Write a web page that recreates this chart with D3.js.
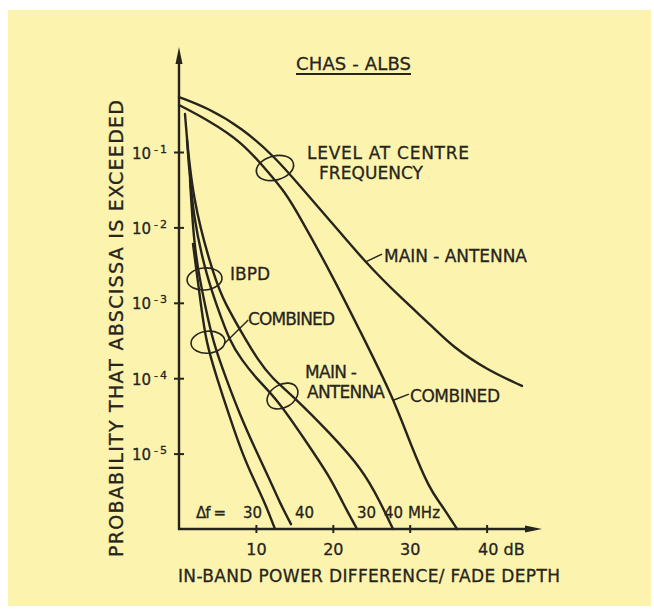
<!DOCTYPE html>
<html>
<head>
<meta charset="utf-8">
<script src="https://cdn.jsdelivr.net/npm/d3@7"></script>
<style>
  body { margin: 0; background: #fff; }
  svg text { font-family: "DejaVu Sans", sans-serif; fill: #27241c; stroke: #27241c; stroke-width: 0.3; }
</style>
</head>
<body>
<script>
// level at centre frequency (dB, probability)
const levelMainDb = [0, 3.77, 8.19, 12.48, 15.73, 20.03, 24.19, 28.74, 33.03, 35.63, 40.05, 44.6];
const levelMainP  = [0.536, 0.383, 0.208, 0.0859, 0.0354, 0.0111, 0.00348, 0.00119, 4.78e-4, 2.59e-4, 1.29e-4, 7.9e-5];
const levelCombDb = [0, 3.77, 8.19, 11.57, 13.78, 15.73, 20.03, 23.28, 27.83, 30.04, 32.64, 34.0, 36.15];
const levelCombP  = [0.42, 0.265, 0.136, 0.0543, 0.0295, 0.01374, 0.0022, 4.78e-4, 5.64e-5, 1.38e-5, 3.29e-6, 2.2e-6, 1e-6];

// IBPD, combined, df = 30 / 40 MHz
const ibpdComb30Db = [1.82, 2.34, 2.86, 3.51, 4.94, 6.5, 8.19, 9.75, 11.18, 12.48];
const ibpdComb30P  = [6.03e-3, 2.34e-3, 9.35e-4, 3.02e-4, 1.0e-4, 3.25e-5, 1.02e-5, 4.47e-6, 2.21e-6, 1e-6];
const ibpdComb40Db = [1.43, 1.95, 2.73, 3.38, 4.42, 6.11, 7.93, 10.14, 11.7, 13.13, 14.56];
const ibpdComb40P  = [0.0425, 5.85e-3, 2.0e-3, 9.35e-4, 3.02e-4, 1.0e-4, 3.25e-5, 1.02e-5, 4.75e-6, 2.21e-6, 1.16e-6];

// IBPD, main antenna, df = 30 / 40 MHz
const ibpdMain30Db = [1.04, 1.82, 3.77, 4.81, 6.63, 8.19, 10.01, 12.87, 16.38, 19.64, 21.3, 23.15];
const ibpdMain30P  = [0.144, 0.0125, 2.0e-3, 9.9e-4, 3.0e-4, 1.74e-4, 1.0e-4, 5.1e-5, 1.52e-5, 4.9e-6, 2.21e-6, 1e-6];
const ibpdMain40Db = [0.78, 1.69, 4.68, 5.98, 8.32, 10.27, 12.09, 14.69, 19.64, 23.93, 26.14, 27.83];
const ibpdMain40P  = [0.319, 0.0231, 2.0e-3, 9.9e-4, 3.74e-4, 1.74e-4, 1.0e-4, 5.98e-5, 1.87e-5, 6.05e-6, 2.3e-6, 1e-6];

const xTicks = [10, 20, 30, 40];
const yTicks = [1e-1, 1e-2, 1e-3, 1e-4, 1e-5];
const yTickExp = ["1", "2", "3", "4", "5"];

const ink = "#27241c";
const W = 654, H = 610;

const svg = d3.select("body").append("svg")
  .attr("width", W)
  .attr("height", H);

svg.append("rect")
  .attr("x", 8).attr("y", 10)
  .attr("width", 643).attr("height", 596)
  .attr("fill", "#fcf4ae");

const x = d3.scaleLinear().domain([0, 40]).range([179, 486.6]);
const y = d3.scaleLog().domain([1e-6, 1]).range([529, 76.6]);

// axes
const xAxis = d3.axisBottom(x).tickValues(xTicks).tickSize(8).tickFormat(d => d);
const gx = svg.append("g").attr("transform", `translate(0,${y(1e-6)})`).call(xAxis);
gx.select(".domain").remove();
gx.selectAll(".tick line").attr("y1", -4).attr("y2", 4).attr("stroke", ink).attr("stroke-width", 2);
gx.selectAll(".tick text")
  .attr("y", 26).attr("dy", 0)
  .style("font-size", "16px").attr("fill", ink);
gx.selectAll(".tick").filter(d => d === 40).select("text")
  .attr("text-anchor", "start").attr("x", -9)
  .text("40 dB");

const yAxis = d3.axisLeft(y).tickValues(yTicks).tickSize(8).tickFormat("");
const gy = svg.append("g").attr("transform", `translate(${x(0)},0)`).call(yAxis);
gy.select(".domain").remove();
gy.selectAll(".tick line").attr("x1", -5).attr("x2", 5).attr("stroke", ink).attr("stroke-width", 2);
gy.selectAll(".tick text").each(function(d, i) {
  const t = d3.select(this)
    .attr("x", -47).attr("dy", 6)
    .attr("text-anchor", "start")
    .style("font-size", "15px");
  t.append("tspan").text("10");
  t.append("tspan").attr("dx", 3).attr("dy", -6).style("font-size", "11px").text("-");
  t.append("tspan").attr("dx", 2).style("font-size", "11px").text(yTickExp[i]);
});

// axis lines with arrows
svg.append("line")
  .attr("x1", x(0)).attr("x2", x(0))
  .attr("y1", y(1e-6) + 1).attr("y2", 60)
  .attr("stroke", ink).attr("stroke-width", 2.4);
svg.append("path")
  .attr("d", `M${x(0)},47 L${x(0) - 3.5},64 L${x(0) + 3.5},64 Z`)
  .attr("fill", ink);
svg.append("line")
  .attr("x1", x(0) - 1).attr("x2", 528)
  .attr("y1", y(1e-6)).attr("y2", y(1e-6))
  .attr("stroke", ink).attr("stroke-width", 2.4);
svg.append("path")
  .attr("d", `M542,${y(1e-6)} L525,${y(1e-6) - 3.5} L525,${y(1e-6) + 3.5} Z`)
  .attr("fill", ink);

// curves
const series = [
  [levelMainDb, levelMainP],
  [levelCombDb, levelCombP],
  [ibpdComb30Db, ibpdComb30P],
  [ibpdComb40Db, ibpdComb40P],
  [ibpdMain30Db, ibpdMain30P],
  [ibpdMain40Db, ibpdMain40P]
].map(([dbs, ps]) => dbs.map((d, i) => [d, ps[i]]));

const line = d3.line()
  .x(d => x(d[0]))
  .y(d => y(d[1]))
  .curve(d3.curveBasis);

svg.selectAll("path.curve")
  .data(series)
  .enter()
  .append("path")
    .attr("class", "curve")
    .attr("d", line)
    .attr("fill", "none")
    .attr("stroke", ink)
    .attr("stroke-width", 2.4)
    .attr("stroke-linecap", "round");

// ellipses round groups of curves
const rings = [
  { db: 12.48, p: 0.0613, rx: 19, ry: 12, rot: -15 },
  { db: 3.32, p: 2.07e-3, rx: 17.5, ry: 11, rot: -5 },
  { db: 3.77, p: 3.0e-4, rx: 17, ry: 11, rot: -5 },
  { db: 13.46, p: 5.8e-5, rx: 16.5, ry: 11.5, rot: -30 }
];
svg.selectAll("ellipse.ring")
  .data(rings)
  .enter()
  .append("ellipse")
    .attr("class", "ring")
    .attr("transform", d => `translate(${x(d.db)},${y(d.p)}) rotate(${d.rot})`)
    .attr("rx", d => d.rx)
    .attr("ry", d => d.ry)
    .attr("fill", "none")
    .attr("stroke", ink)
    .attr("stroke-width", 1.6);

// leader lines
const leaders = [
  [[24.2, 10 ** -2.459], [26.4, 10 ** -2.353]],
  [[27.95, 10 ** -4.289], [29.9, 10 ** -4.21]],
  [[5.85, 10 ** -3.546], [9.0, 10 ** -3.228]]
];
svg.selectAll("path.leader")
  .data(leaders)
  .enter()
  .append("path")
    .attr("class", "leader")
    .attr("d", d => `M${x(d[0][0])},${y(d[0][1])} L${x(d[1][0])},${y(d[1][1])}`)
    .attr("fill", "none")
    .attr("stroke", ink)
    .attr("stroke-width", 1.4);

// labels
function label(txt, px, py, size, len) {
  const t = svg.append("text")
    .attr("x", px).attr("y", py)
    .style("font-size", size + "px")
    .text(txt);
  if (len) t.attr("textLength", len).attr("lengthAdjust", "spacing");
  return t;
}

label("CHAS - ALBS", 296, 70, 18, 115);
svg.append("line")
  .attr("x1", 296).attr("x2", 411).attr("y1", 74).attr("y2", 74)
  .attr("stroke", ink).attr("stroke-width", 1.8);

label("LEVEL  AT  CENTRE", 307, 159, 17, 162);
label("FREQUENCY", 319, 179, 17, 104);
label("MAIN - ANTENNA", 384, 262, 17, 143);
label("COMBINED", 410, 402, 17, 90);
label("IBPD", 230, 280, 17, 40);
label("COMBINED", 248, 325, 17, 87);
label("MAIN -", 305, 378, 17, 52);
label("ANTENNA", 307, 398, 17, 78);

label("\u0394f =", 196, 518, 15, 30);
label("30", 243, 518, 15);
label("40", 295, 518, 15);
label("30", 357, 518, 15);
label("40 MHz", 384, 518, 15, 56);

label("IN-BAND  POWER  DIFFERENCE/ FADE  DEPTH", 178, 582, 17, 382);

svg.append("text")
  .attr("transform", "translate(123,557) rotate(-90)")
  .attr("textLength", 457).attr("lengthAdjust", "spacing")
  .style("font-size", "19px")
  .text("PROBABILITY  THAT  ABSCISSA  IS  EXCEEDED");
</script>
</body>
</html>
